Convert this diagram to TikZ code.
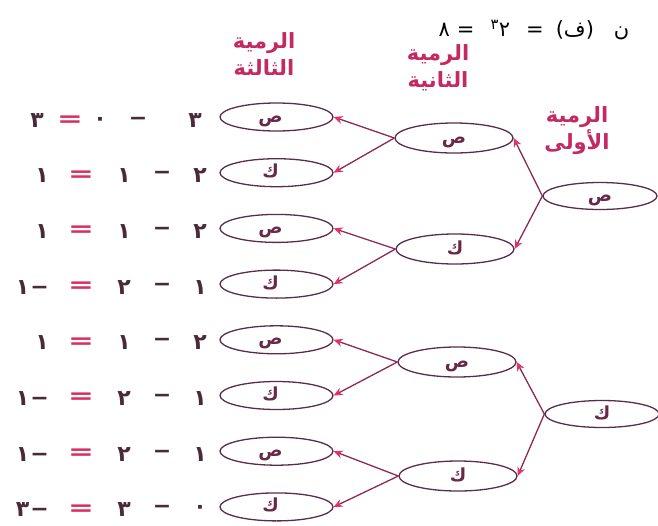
\documentclass[tikz,border=0pt]{standalone}
\usepackage{fontspec}
\usepackage{graphicx}
\usetikzlibrary{shapes.geometric,arrows.meta}
\TeXXeTstate=1
\newfontfamily\arabicfont[Script=Arabic]{DejaVu Sans}
\definecolor{ellC}{HTML}{5A2C4C}
\definecolor{lineC}{HTML}{8A2A55}
\definecolor{tipC}{HTML}{E0336E}
\definecolor{hdrC}{HTML}{C42A62}
\definecolor{digC}{HTML}{4A2A38}
\definecolor{eqC}{HTML}{D8305F}
\definecolor{letC}{HTML}{6A2848}
\newcommand\lowerit[1]{\raisebox{-5pt}[0pt][0pt]{#1}}
\tikzset{
  leaf/.style={ellipse, draw=ellC, line width=1.3pt, minimum width=113pt, minimum height=28pt,
    inner sep=0pt, font=\arabicfont\bfseries\fontsize{18}{18}\selectfont, text=letC},
  mid/.style={leaf, minimum width=118pt, minimum height=30pt},
  root/.style={leaf, minimum width=114pt, minimum height=27pt},
  branch/.style={draw=lineC, line width=1.3pt, -{Stealth[length=9pt,width=8pt,color=tipC]}},
  hdr/.style={font=\arabicfont\bfseries\fontsize{21}{27}\selectfont, text=hdrC, align=center},
  eqd/.style={font=\arabicfont\bfseries\fontsize{22}{22}\selectfont, text=digC, inner sep=0pt},
  eqs/.style={eqd, text=eqC}
}
\begin{document}
\begin{tikzpicture}[x=1pt,y=-1pt]
\useasboundingbox (0,0) rectangle (658,525);

% headers
\node[hdr] (h3) at (264,54) {\beginR الرمية\endR\\\beginR الثالثة\endR};
\node[hdr] (h2) at (438,68) {\beginR الرمية\endR\\\beginR الثانية\endR};
\node[hdr] (h1) at (577,131) {\beginR الرمية\endR\\\beginR الأولى\endR};

% formula
\node[font=\arabicfont\fontsize{21}{21}\selectfont, text=black, inner sep=0pt] (frm) at (534,30)
  {\beginR ن\hspace{20pt}(ف)\hspace{12pt}=\hspace{16pt}٢\textsuperscript{٣}\hspace{16pt}=\hspace{7pt}٨\endR};

% first throw
\node[root] (f1) at (600,196) {\lowerit{ص}};
\node[root] (f2) at (602,414) {\lowerit{ك}};

% second throw
\node[mid] (s1) at (454,138) {\lowerit{ص}};
\node[mid] (s2) at (455,249) {\lowerit{ك}};
\node[mid] (s3) at (457,362) {\lowerit{ص}};
\node[mid] (s4) at (458,476) {\lowerit{ك}};

% third throw
\foreach \i/\l in {1/ص, 2/ك, 3/ص, 4/ك, 5/ص, 6/ك, 7/ص, 8/ك} {
  \pgfmathsetmacro\yy{117+(\i-1)*55.7}
  \node[leaf] (t\i) at (276.5,\yy) {\hspace*{-12pt}\lowerit{\l}};
}

% equations (first row spaced as printed)
\node[eqd] (a1) at (195,121) {٣};
\node[eqd] (m1) at (138,121) {−};
\node[eqd] (b1) at (100,121) {٠};
\node[eqs] (e1) at (70,121) {\scalebox{1.4}[1]{=}};
\node[eqd, anchor=east] (r1) at (44,121) {\beginR ٣\endR};
\foreach \i/\a/\b/\r in {2/٢/١/١, 3/٢/١/١, 4/١/٢/{−\kern1pt ١},
                         5/٢/١/١, 6/١/٢/{−\kern1pt ١}, 7/١/٢/{−\kern1pt ١}, 8/٠/٣/{−\kern1pt ٣}} {
  \pgfmathsetmacro\yy{117+(\i-1)*55.7+3}
  \node[eqd] (a\i) at (200,\yy) {\a};
  \node[eqd] (m\i) at (162,\yy) {−};
  \node[eqd] (b\i) at (124,\yy) {\b};
  \node[eqs] (e\i) at (81,\yy) {\scalebox{1.4}[1]{=}};
  \node[eqd, anchor=east] (r\i) at (49,\yy) {\beginR\r\endR};
}

% connectors
\draw[branch] (f1.west) -- (s1.east);
\draw[branch] (f1.west) -- (s2.east);
\draw[branch] (f2.west) -- (s3.east);
\draw[branch] (f2.west) -- (s4.east);
\draw[branch] (s1.west) -- (t1.east);
\draw[branch] (s1.west) -- (t2.east);
\draw[branch] (s2.west) -- (t3.east);
\draw[branch] (s2.west) -- (t4.east);
\draw[branch] (s3.west) -- (t5.east);
\draw[branch] (s3.west) -- (t6.east);
\draw[branch] (s4.west) -- (t7.east);
\draw[branch] (s4.west) -- (t8.east);
\end{tikzpicture}
\end{document}
